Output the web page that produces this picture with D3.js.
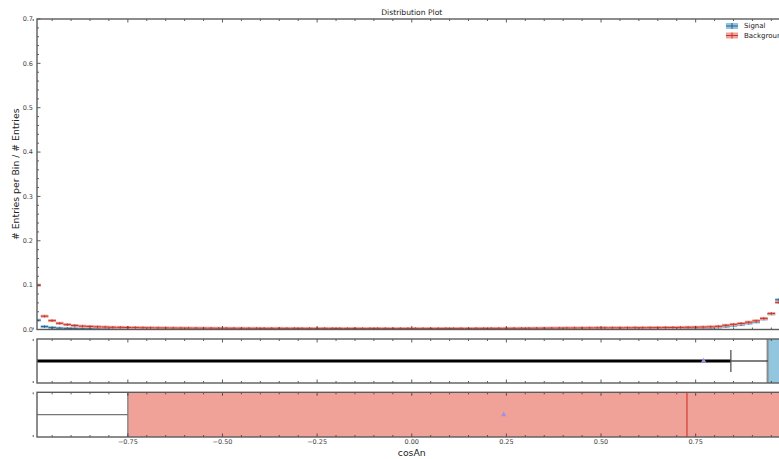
<!DOCTYPE html>
<html>
<head>
<meta charset="utf-8">
<script src="https://cdn.jsdelivr.net/npm/d3@7"></script>
<style>
  html, body { margin: 0; padding: 0; background: #fff; }
  svg { display: block; font-family: "DejaVu Sans", sans-serif; }
</style>
</head>
<body>
<svg id="chart" width="779" height="459"></svg>
<script>
// Normalised cosAn distributions, 100 bins of width 0.02 on [-1, 1]
const binWidth = 0.02;
const signalValues = [
  0.0210, 0.0065, 0.0042, 0.0030, 0.0024, 0.0020, 0.0017, 0.0015, 0.0014, 0.0013,
  0.0012, 0.0012, 0.0011, 0.0011, 0.0010, 0.0010, 0.0010, 0.0009, 0.0009, 0.0009,
  0.0009, 0.0008, 0.0009, 0.0008, 0.0008, 0.0008, 0.0009, 0.0008, 0.0008, 0.0008,
  0.0008, 0.0007, 0.0008, 0.0008, 0.0007, 0.0008, 0.0008, 0.0007, 0.0008, 0.0008,
  0.0008, 0.0007, 0.0008, 0.0008, 0.0008, 0.0007, 0.0008, 0.0008, 0.0008, 0.0008,
  0.0008, 0.0008, 0.0009, 0.0008, 0.0009, 0.0009, 0.0009, 0.0010, 0.0010, 0.0010,
  0.0011, 0.0011, 0.0011, 0.0012, 0.0012, 0.0013, 0.0013, 0.0014, 0.0014, 0.0015,
  0.0015, 0.0016, 0.0016, 0.0017, 0.0017, 0.0018, 0.0018, 0.0019, 0.0019, 0.0020,
  0.0020, 0.0021, 0.0022, 0.0024, 0.0026, 0.0028, 0.0030, 0.0033, 0.0036, 0.0040,
  0.0050, 0.0068, 0.0088, 0.0110, 0.0140, 0.0170, 0.0235, 0.0350, 0.0670, 0.1800
];
const backgroundValues = [
  0.1000, 0.0300, 0.0200, 0.0140, 0.0110, 0.0090, 0.0075, 0.0068, 0.0060, 0.0055,
  0.0050, 0.0048, 0.0045, 0.0043, 0.0040, 0.0038, 0.0036, 0.0035, 0.0033, 0.0032,
  0.0031, 0.0030, 0.0030, 0.0029, 0.0028, 0.0028, 0.0027, 0.0027, 0.0026, 0.0026,
  0.0025, 0.0025, 0.0026, 0.0024, 0.0025, 0.0024, 0.0024, 0.0023, 0.0024, 0.0023,
  0.0023, 0.0022, 0.0023, 0.0022, 0.0022, 0.0023, 0.0022, 0.0021, 0.0022, 0.0022,
  0.0022, 0.0021, 0.0022, 0.0022, 0.0023, 0.0022, 0.0023, 0.0023, 0.0024, 0.0024,
  0.0025, 0.0025, 0.0026, 0.0026, 0.0027, 0.0028, 0.0029, 0.0030, 0.0031, 0.0032,
  0.0033, 0.0034, 0.0035, 0.0036, 0.0037, 0.0037, 0.0038, 0.0038, 0.0039, 0.0040,
  0.0040, 0.0041, 0.0042, 0.0044, 0.0045, 0.0047, 0.0050, 0.0052, 0.0055, 0.0060,
  0.0070, 0.0095, 0.0115, 0.0135, 0.0165, 0.0195, 0.0250, 0.0360, 0.0610, 0.1100
];

// Cut summary rows below the distribution
const signalCut = { best: 0.771, edge: 0.843, windowStart: 0.94 };
const backgroundCut = { start: -0.75, marker: 0.243, line: 0.727 };

const xTicks = [-0.75, -0.50, -0.25, 0.00, 0.25, 0.50, 0.75];
const yTicks = [0.0, 0.1, 0.2, 0.3, 0.4, 0.5, 0.6, 0.7];

const colors = {
  sigFill: "#92c5de", sigLine: "#2d5f8c",
  bkgFill: "#f0a299", bkgLine: "#c4392f",
  spine: "#5c5c5c", text: "#444", marker: "#9b93e0"
};

const svg = d3.select("#chart");
const left = 37, right = 786.5;
const main = { top: 19, bottom: 329.5 };
const mid = { top: 339, bottom: 383 };
const low = { top: 392.3, bottom: 437 };

const centers = signalValues.map((_, i) => -1 + binWidth / 2 + i * binWidth);
const x = d3.scaleLinear().domain([centers[0], centers[centers.length - 1]]).range([left, right]);
const y = d3.scaleLinear().domain([0, 0.7]).range([main.bottom, main.top]);
const yMid = d3.scaleLinear().domain([0, 1]).range([mid.bottom, mid.top]);
const yLow = d3.scaleLinear().domain([0, 1]).range([low.bottom, low.top]);

const minorX = d3.range(-1.0, 1.0001, 0.05).map(v => +v.toFixed(2)).filter(v => !xTicks.some(t => Math.abs(t - v) < 1e-6));
const minorY = d3.range(0, 0.7001, 0.02).map(v => +v.toFixed(2)).filter(v => !yTicks.some(t => Math.abs(t - v) < 1e-6));

// Clip regions per panel
const defs = svg.append("defs");
[["clipMain", main], ["clipMid", mid], ["clipLow", low]].forEach(([id, p]) => {
  defs.append("clipPath").attr("id", id).append("rect")
    .attr("x", left).attr("y", p.top).attr("width", right - left).attr("height", p.bottom - p.top);
});

// ---------- Main distribution panel ----------
const gMain = svg.append("g").attr("clip-path", "url(#clipMain)");

function drawSeries(values, fill, line) {
  const g = gMain.append("g");
  values.forEach((v, i) => {
    const x0 = x(centers[i] - binWidth / 2), x1 = x(centers[i] + binWidth / 2);
    const yv = y(v);
    g.append("rect").attr("x", x0).attr("y", yv - 1.5).attr("width", x1 - x0).attr("height", 3).attr("fill", fill);
    g.append("line").attr("x1", x0).attr("x2", x1).attr("y1", yv).attr("y2", yv)
      .attr("stroke", line).attr("stroke-width", 1);
    g.append("line").attr("x1", x(centers[i])).attr("x2", x(centers[i]))
      .attr("y1", yv - 1.2).attr("y2", yv + 1.2).attr("stroke", line).attr("stroke-width", 1);
  });
}
drawSeries(signalValues, colors.sigFill, colors.sigLine);
drawSeries(backgroundValues, colors.bkgFill, colors.bkgLine);

// ticks (inward) for a panel
function panelTicks(p, withY, yScale) {
  const g = svg.append("g").attr("stroke", "#333").attr("stroke-width", 0.8);
  xTicks.forEach(t => {
    g.append("line").attr("x1", x(t)).attr("x2", x(t)).attr("y1", p.top).attr("y2", p.top + 3.5);
    g.append("line").attr("x1", x(t)).attr("x2", x(t)).attr("y1", p.bottom).attr("y2", p.bottom - 3.5);
  });
  minorX.forEach(t => {
    g.append("line").attr("x1", x(t)).attr("x2", x(t)).attr("y1", p.top).attr("y2", p.top + 2);
    g.append("line").attr("x1", x(t)).attr("x2", x(t)).attr("y1", p.bottom).attr("y2", p.bottom - 2);
  });
  if (withY) {
    yTicks.forEach(t => g.append("line").attr("x1", left).attr("x2", left + 3.5).attr("y1", yScale(t)).attr("y2", yScale(t)));
    minorY.forEach(t => g.append("line").attr("x1", left).attr("x2", left + 2).attr("y1", yScale(t)).attr("y2", yScale(t)));
  }
}
function spines(p) {
  svg.append("rect").attr("x", left).attr("y", p.top).attr("width", right - left).attr("height", p.bottom - p.top)
    .attr("fill", "none").attr("stroke", colors.spine).attr("stroke-width", 1.4);
}

panelTicks(main, true, y);
spines(main);

// y tick labels
svg.append("g").selectAll("text").data(yTicks).join("text")
  .attr("x", left - 4).attr("y", d => y(d)).attr("dy", "0.35em")
  .attr("text-anchor", "end").attr("font-size", 6.5).attr("fill", colors.text)
  .text(d => d3.format(".1f")(d));

// ---------- Signal cut row ----------
const gMid = svg.append("g").attr("clip-path", "url(#clipMid)");
gMid.append("rect").attr("x", x(signalCut.windowStart)).attr("y", mid.top)
  .attr("width", right - x(signalCut.windowStart)).attr("height", mid.bottom - mid.top)
  .attr("fill", colors.sigFill);
gMid.append("line").attr("x1", x(signalCut.windowStart)).attr("x2", x(signalCut.windowStart))
  .attr("y1", mid.top).attr("y2", mid.bottom).attr("stroke", "#8a8a8a").attr("stroke-width", 2);
gMid.append("line").attr("x1", left).attr("x2", x(signalCut.edge)).attr("y1", yMid(0.5)).attr("y2", yMid(0.5))
  .attr("stroke", "#000").attr("stroke-width", 3);
gMid.append("line").attr("x1", x(signalCut.edge)).attr("x2", x(signalCut.windowStart)).attr("y1", yMid(0.5)).attr("y2", yMid(0.5))
  .attr("stroke", "#000").attr("stroke-width", 1);
gMid.append("line").attr("x1", x(signalCut.edge)).attr("x2", x(signalCut.edge)).attr("y1", yMid(0.75)).attr("y2", yMid(0.25))
  .attr("stroke", "#555").attr("stroke-width", 1.3);
gMid.append("path").attr("d", d3.symbol(d3.symbolTriangle, 14)())
  .attr("transform", `translate(${x(signalCut.best)},${yMid(0.5)})`).attr("fill", colors.marker);
panelTicks(mid, false);
spines(mid);

// ---------- Background cut row ----------
const gLow = svg.append("g").attr("clip-path", "url(#clipLow)");
gLow.append("rect").attr("x", x(backgroundCut.start)).attr("y", low.top)
  .attr("width", right - x(backgroundCut.start)).attr("height", low.bottom - low.top)
  .attr("fill", colors.bkgFill);
gLow.append("line").attr("x1", x(backgroundCut.start)).attr("x2", x(backgroundCut.start))
  .attr("y1", low.top).attr("y2", low.bottom).attr("stroke", "#8a8a8a").attr("stroke-width", 1.5);
gLow.append("line").attr("x1", left).attr("x2", x(backgroundCut.start)).attr("y1", yLow(0.5)).attr("y2", yLow(0.5))
  .attr("stroke", "#777").attr("stroke-width", 1.4);
gLow.append("line").attr("x1", x(backgroundCut.line)).attr("x2", x(backgroundCut.line))
  .attr("y1", low.top).attr("y2", low.bottom).attr("stroke", "#d2453a").attr("stroke-width", 1.3);
gLow.append("path").attr("d", d3.symbol(d3.symbolTriangle, 12)())
  .attr("transform", `translate(${x(backgroundCut.marker)},${yLow(0.5)})`).attr("fill", colors.marker);
panelTicks(low, false);
spines(low);

// x tick labels
svg.append("g").selectAll("text").data(xTicks).join("text")
  .attr("x", d => x(d)).attr("y", low.bottom + 7.3)
  .attr("text-anchor", "middle").attr("font-size", 6.5).attr("fill", colors.text)
  .text(d => d3.format(".2f")(d).replace("-", "\u2212"));

// ---------- Titles ----------
svg.append("text").attr("x", x(0)).attr("y", 15).attr("text-anchor", "middle")
  .attr("font-size", 7.6).attr("fill", "#222").text("Distribution Plot");
svg.append("text").attr("x", x(0)).attr("y", 456).attr("text-anchor", "middle")
  .attr("font-size", 9.3).attr("fill", "#222").text("cosAn");
svg.append("text").attr("transform", `translate(19,${(main.top + main.bottom) / 2}) rotate(-90)`)
  .attr("text-anchor", "middle").attr("font-size", 9.3).attr("fill", "#222")
  .text("# Entries per Bin / # Entries");

// ---------- Legend ----------
const legendItems = [
  { label: "Signal", fill: colors.sigFill, line: colors.sigLine },
  { label: "Background", fill: colors.bkgFill, line: colors.bkgLine }
];
const lg = svg.append("g").attr("transform", "translate(726,26)");
legendItems.forEach((d, i) => {
  const row = lg.append("g").attr("transform", `translate(0,${i * 9.5})`);
  row.append("rect").attr("x", 0).attr("y", -3).attr("width", 12).attr("height", 6).attr("fill", d.fill);
  row.append("line").attr("x1", 0).attr("x2", 12).attr("y1", 0).attr("y2", 0).attr("stroke", d.line).attr("stroke-width", 1);
  row.append("line").attr("x1", 6).attr("x2", 6).attr("y1", -3).attr("y2", 3).attr("stroke", d.line).attr("stroke-width", 1);
  row.append("text").attr("x", 18).attr("y", 0).attr("dy", "0.35em").attr("font-size", 7)
    .attr("fill", "#222").text(d.label);
});
</script>
</body>
</html>
